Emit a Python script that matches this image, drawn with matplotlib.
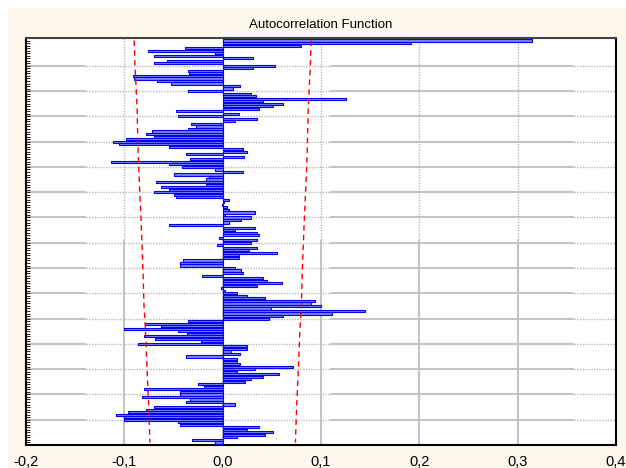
import numpy as np
import matplotlib.pyplot as plt
from matplotlib.patches import Rectangle

plt.rcParams['font.family'] = ['Liberation Sans', 'DejaVu Sans']

# autocorrelation per lag (lag 1 at the top)
acf = [0.315, 0.192, 0.080, -0.038, -0.076, -0.008, -0.070, 0.031, -0.057, -0.070,
       0.053, 0.031, -0.035, -0.034, -0.091, -0.090, -0.067, -0.053, 0.018, 0.010,
       -0.035, 0.029, 0.034, 0.125, 0.041, 0.061, 0.051, 0.037, -0.047, 0.017,
       -0.045, 0.035, 0.013, -0.032, -0.027, -0.035, -0.072, -0.078, -0.070, -0.098,
       -0.112, -0.105, -0.055, 0.021, 0.025, -0.037, 0.022, -0.033, -0.114, -0.055,
       -0.041, -0.008, 0.021, -0.049, -0.014, -0.017, -0.068, -0.017, -0.063, -0.055,
       -0.070, -0.049, -0.047, 0.006, 0.001, -0.001, 0.004, 0.006, 0.033, 0.002,
       0.029, 0.019, 0.006, -0.055, 0.033, 0.013, 0.035, 0.037, -0.004, 0.035,
       0.029, -0.006, 0.035, 0.027, 0.055, 0.017, 0.017, -0.040, -0.043, -0.043,
       0.013, 0.019, 0.021, -0.021, 0.041, 0.045, 0.060, 0.035, -0.002, 0.002,
       0.015, 0.025, 0.043, 0.094, 0.090, 0.100, 0.049, 0.145, 0.111, 0.061,
       0.047, -0.035, -0.079, -0.063, -0.100, -0.045, -0.036, -0.080, -0.069, -0.022,
       -0.086, 0.025, 0.025, 0.008, 0.018, -0.037, 0.015, 0.015, 0.018, 0.072,
       0.033, 0.015, 0.057, 0.041, 0.029, 0.023, -0.025, -0.019, -0.080, -0.043,
       -0.043, -0.082, -0.033, -0.037, 0.013, -0.070, -0.078, -0.096, -0.108, -0.100,
       -0.100, -0.045, -0.043, 0.037, 0.025, 0.051, 0.043, 0.015, -0.031, -0.008]

# confidence limit read at a few lags
lim_lags = [1, 12, 28, 45, 55, 72, 92, 106, 112, 130, 148, 160]
lim_vals = [0.090, 0.089, 0.087, 0.086, 0.085, 0.083, 0.081, 0.080, 0.079, 0.077, 0.075, 0.074]

xticks = [-0.2, -0.1, 0.0, 0.1, 0.2, 0.3, 0.4]
xlabels = ['-0,2', '-0,1', '0,0', '0,1', '0,2', '0,3', '0,4']

lags = np.arange(1, len(acf) + 1)

fig = plt.figure(figsize=(6.26, 4.68), dpi=100, facecolor='white')
bg = Rectangle((8 / 626, 0), 1, 1 - 8 / 468, transform=fig.transFigure,
               facecolor='#fcf8ec', edgecolor='none', zorder=-10)
fig.add_artist(bg)
ax = fig.add_axes([26 / 626, 1 - 445 / 468, 590 / 626, 407 / 468])
ax.set_facecolor('white')

# grid (solid and dotted parts like the original rendering)
for g in range(11, 160, 10):
    ax.hlines(g, -0.2, -0.139, color='#c4c4c4', lw=1.5, zorder=1)
    ax.hlines(g, 0.109, 0.357, color='#c4c4c4', lw=1.5, zorder=1)
    ax.hlines(g, -0.139, 0.109, color='#b8b8b8', lw=1, ls=(0, (1, 1)), zorder=1)
    ax.hlines(g, 0.357, 0.4, color='#b8b8b8', lw=1, ls=(0, (1, 1)), zorder=1)
for xv in [-0.1, 0.0, 0.1, 0.2, 0.3]:
    ax.vlines(xv, 0, 80, color='#b8b8b8', lw=1, ls=(0, (1, 1)), zorder=1)
    ax.vlines(xv, 80, 161, color='#c4c4c4', lw=1.5, zorder=1)

ax.barh(lags, acf, height=0.85, left=0, color='#8080ff', edgecolor='#0000ee',
        linewidth=0.8, zorder=3)

ax.plot(lim_vals, lim_lags, color='red', lw=1, ls=(0, (4, 3)), zorder=4)
ax.plot([-v for v in lim_vals], lim_lags, color='red', lw=1, ls=(0, (4, 3)), zorder=4)

ax.set_xlim(-0.2, 0.4)
ax.set_ylim(161, 0)
ax.set_xticks(xticks)
ax.set_xticklabels(xlabels, fontsize=10.5)
ax.tick_params(axis='x', length=0, pad=7)
ax.set_yticks(lags)
ax.set_yticklabels([])
ax.tick_params(axis='y', direction='in', length=3, width=0.6)
for side in ['left', 'right', 'bottom', 'top']:
    ax.spines[side].set_linewidth(1.5)
    ax.spines[side].set_color('black')
ax.spines['top'].set_color('#444444')

fig.text(321 / 626, 1 - 25 / 468, 'Autocorrelation Function', ha='center', va='center',
         fontsize=9.5)

plt.savefig('out.png', dpi=100, facecolor=fig.get_facecolor())
